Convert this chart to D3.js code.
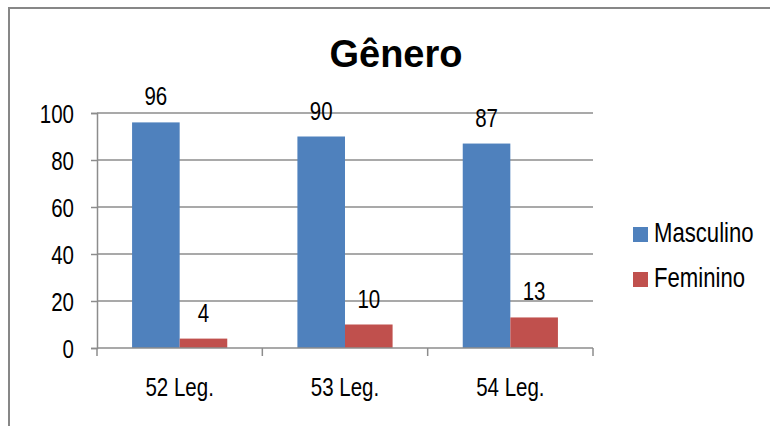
<!DOCTYPE html>
<html>
<head>
<meta charset="utf-8">
<script src="https://cdn.jsdelivr.net/npm/d3@7"></script>
<style>
  html, body { margin: 0; padding: 0; background: #fff; }
  svg { display: block; }
  .lbl { font-family: "Liberation Sans", Arial, sans-serif; fill: #000; }
</style>
</head>
<body>
<svg id="chart" width="770" height="426"></svg>
<script>
// Chart data
const categories = ["52 Leg.", "53 Leg.", "54 Leg."];
const seriesNames = ["Masculino", "Feminino"];
const masculino = [96, 90, 87];
const feminino = [4, 10, 13];
const yTicks = [0, 20, 40, 60, 80, 100];
const titleText = "Gênero";

const colors = { Masculino: "#4f81bd", Feminino: "#c0504d" };
const seriesValues = { Masculino: masculino, Feminino: feminino };

const svg = d3.select("#chart");
const W = 770, H = 426;
const plot = { left: 97, right: 593, top: 113, bottom: 348 };
const gridColor = "#8c8c8c";

// condense label glyphs horizontally (narrow sans look):
// move the text's anchor point into a transform, then squeeze x
function narrow(sel, k = 0.82) {
  sel.each(function () {
    const t = d3.select(this);
    const x = +t.attr("x") || 0;
    const y = +t.attr("y") || 0;
    t.attr("x", 0).attr("y", 0)
     .attr("transform", `translate(${x},${y}) scale(${k},1)`);
  });
}

// outer frame
svg.append("rect")
  .attr("x", 9).attr("y", 8)
  .attr("width", W + 10).attr("height", H + 10)
  .attr("fill", "none").attr("stroke", "#878787").attr("stroke-width", 2);

const x0 = d3.scaleBand().domain(categories).range([plot.left, plot.right]).padding(0);
const x1 = d3.scaleBand().domain(seriesNames).range([0, x0.bandwidth()])
  .paddingInner(0).paddingOuter(0.737);
const y = d3.scaleLinear().domain([0, 100]).range([plot.bottom, plot.top]);

// horizontal gridlines
svg.append("g").selectAll("line").data(yTicks.filter(d => d > 0)).join("line")
  .attr("x1", plot.left).attr("x2", plot.right)
  .attr("y1", d => y(d)).attr("y2", d => y(d))
  .attr("stroke", gridColor).attr("stroke-width", 1.5);

// y axis
const yAxis = svg.append("g").attr("transform", `translate(${plot.left},0)`)
  .call(d3.axisLeft(y).tickValues(yTicks).tickSize(6).tickPadding(17).tickFormat(d3.format("d")));
yAxis.select(".domain").attr("stroke", gridColor).attr("stroke-width", 1.5);
yAxis.selectAll(".tick line").attr("stroke", gridColor).attr("stroke-width", 1.5);
yAxis.selectAll(".tick text").attr("class", "lbl").attr("font-size", 25).attr("dy", "0.36em")
  .call(narrow);

// bars
const groups = svg.append("g").selectAll("g").data(categories).join("g")
  .attr("transform", d => `translate(${x0(d)},0)`);

groups.selectAll("rect")
  .data((c, i) => seriesNames.map(s => ({ s, v: seriesValues[s][i] })))
  .join("rect")
  .attr("x", d => x1(d.s))
  .attr("width", x1.bandwidth())
  .attr("y", d => y(d.v))
  .attr("height", d => y(0) - y(d.v))
  .attr("fill", d => colors[d.s]);

// value labels
groups.selectAll("text")
  .data((c, i) => seriesNames.map(s => ({ s, v: seriesValues[s][i] })))
  .join("text")
  .attr("class", "lbl")
  .attr("font-size", 25)
  .attr("text-anchor", "middle")
  .attr("x", d => x1(d.s) + x1.bandwidth() / 2)
  .attr("y", d => y(d.v) - 17)
  .text(d => d.v)
  .call(narrow);

// x axis
const xAxis = svg.append("g").attr("transform", `translate(0,${plot.bottom})`)
  .call(d3.axisBottom(x0).tickSize(0).tickPadding(0));
xAxis.select(".domain").remove();
xAxis.append("line").attr("x1", plot.left).attr("x2", plot.right)
  .attr("stroke", gridColor).attr("stroke-width", 1.5);
const bounds = [plot.left].concat(categories.map(c => x0(c) + x0.bandwidth()));
xAxis.selectAll(".bound").data(bounds).join("line").attr("class", "bound")
  .attr("x1", d => d).attr("x2", d => d).attr("y1", 0).attr("y2", 8)
  .attr("stroke", gridColor).attr("stroke-width", 1.5);
xAxis.selectAll(".tick text").attr("class", "lbl").attr("font-size", 25)
  .attr("dy", 0).attr("y", 48)
  .call(narrow);

// title
svg.append("text")
  .attr("x", 396).attr("y", 67)
  .attr("text-anchor", "middle")
  .attr("font-family", "'Liberation Sans', Arial, sans-serif")
  .attr("font-weight", "bold")
  .attr("font-size", 38)
  .text(titleText);

// legend
const legend = svg.append("g").selectAll("g").data(seriesNames).join("g")
  .attr("transform", (d, i) => `translate(633,${242 + i * 45})`);
legend.append("rect").attr("x", 0).attr("y", -15).attr("width", 15).attr("height", 15)
  .attr("fill", d => colors[d]);
legend.append("text").attr("class", "lbl").attr("x", 21).attr("y", 0)
  .attr("font-size", 27).text(d => d)
  .call(narrow);
</script>
</body>
</html>
